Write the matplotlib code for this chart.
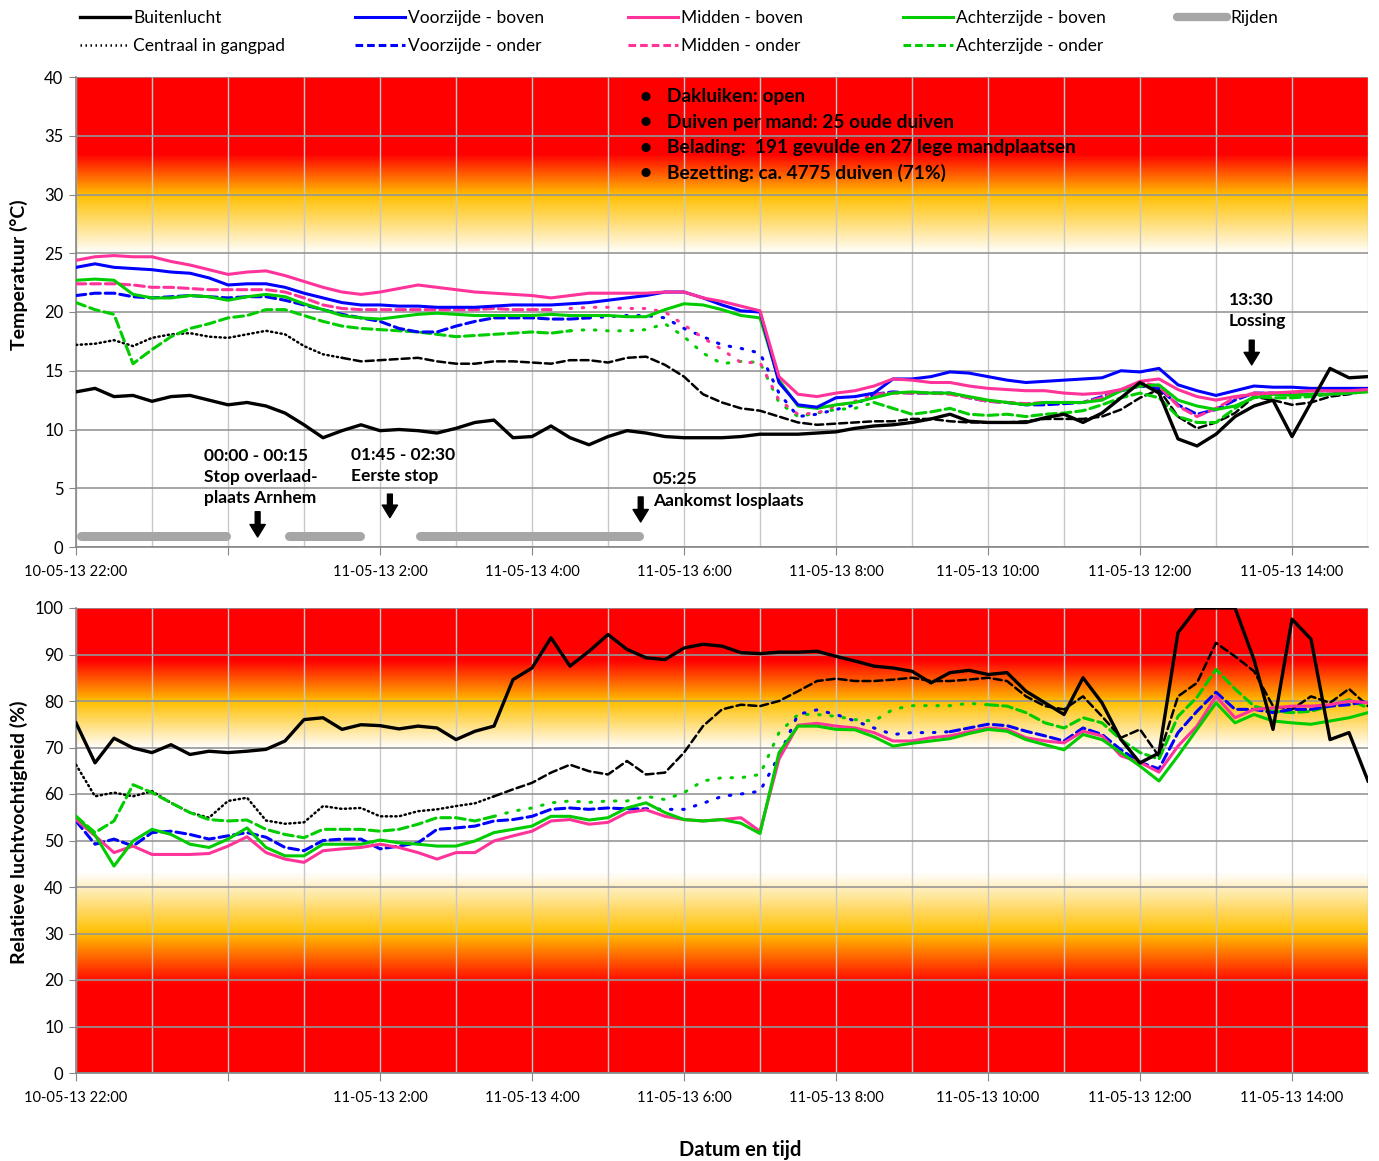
import numpy as np
import matplotlib
matplotlib.use("Agg")
import matplotlib.pyplot as plt
from matplotlib.colors import LinearSegmentedColormap
from matplotlib.lines import Line2D

plt.rcParams['font.family'] = ['Lato', 'DejaVu Sans']

# hours after 10-05-13 22:00, one sample every quarter of an hour
hours = np.linspace(0, 17, 69)

tick_hours = [0, 2, 4, 6, 8, 10, 12, 14, 16]
tick_labels = ['10-05-13 22:00', '', '11-05-13 2:00', '11-05-13 4:00', '11-05-13 6:00',
               '11-05-13 8:00', '11-05-13 10:00', '11-05-13 12:00', '11-05-13 14:00']

# temperature (degC)
buiten_T = [13.2, 13.5, 12.8, 12.9, 12.4, 12.8, 12.9, 12.5,
            12.1, 12.3, 12.0, 11.4, 10.4, 9.3, 9.9, 10.4,
            9.9, 10.0, 9.9, 9.7, 10.1, 10.6, 10.8, 9.3,
            9.4, 10.3, 9.3, 8.7, 9.4, 9.9, 9.7, 9.4,
            9.3, 9.3, 9.3, 9.4, 9.6, 9.6, 9.6, 9.7,
            9.8, 10.1, 10.3, 10.4, 10.6, 10.9, 11.3, 10.7,
            10.6, 10.6, 10.6, 11.0, 11.3, 10.6, 11.4, 12.7,
            14.0, 13.1, 9.2, 8.6, 9.6, 11.1, 12.0, 12.5,
            9.4, 12.3, 15.2, 14.4, 14.5]
centraal_T = [17.2, 17.3, 17.6, 17.1, 17.8, 18.1, 18.2, 17.9,
              17.8, 18.1, 18.4, 18.1, 17.1, 16.4, 16.1, 15.8,
              15.9, 16.0, 16.1, 15.8, 15.6, 15.6, 15.8, 15.8,
              15.7, 15.6, 15.9, 15.9, 15.7, 16.1, 16.2, 15.5,
              14.5, 13.0, 12.3, 11.8, 11.6, 11.1, 10.6, 10.4,
              10.5, 10.6, 10.7, 10.7, 10.9, 10.9, 10.7, 10.6,
              10.6, 10.6, 10.7, 10.9, 10.9, 10.9, 11.1, 11.7,
              12.7, 13.4, 11.1, 10.1, 10.6, 11.4, 12.8, 12.5,
              12.1, 12.3, 12.8, 13.0, 13.3]
voor_boven_T = [23.8, 24.1, 23.8, 23.7, 23.6, 23.4, 23.3, 22.9,
                22.3, 22.4, 22.4, 22.1, 21.6, 21.2, 20.8, 20.6,
                20.6, 20.5, 20.5, 20.4, 20.4, 20.4, 20.5, 20.6,
                20.6, 20.6, 20.7, 20.8, 21.0, 21.2, 21.4, 21.7,
                21.7, 21.2, 20.6, 20.1, 20.0, 14.0, 12.1, 11.9,
                12.7, 12.8, 13.1, 14.3, 14.3, 14.5, 14.9, 14.8,
                14.5, 14.2, 14.0, 14.1, 14.2, 14.3, 14.4, 15.0,
                14.9, 15.2, 13.8, 13.3, 12.9, 13.3, 13.7, 13.6,
                13.6, 13.5, 13.5, 13.5, 13.5]
voor_onder_T = [21.4, 21.6, 21.6, 21.3, 21.2, 21.3, 21.4, 21.3,
                21.2, 21.3, 21.3, 21.0, 20.6, 20.2, 19.8, 19.5,
                19.2, 18.6, 18.3, 18.3, 18.8, 19.2, 19.5, 19.5,
                19.5, 19.4, 19.4, 19.5, 19.6, 19.7, 19.7, 19.5,
                18.6, 17.9, 17.2, 16.9, 16.5, 13.1, 11.1, 11.3,
                11.7, 12.1, 13.0, 13.2, 13.1, 13.1, 13.1, 12.7,
                12.4, 12.3, 12.1, 12.1, 12.2, 12.3, 12.8, 13.3,
                13.7, 13.5, 12.1, 11.3, 11.7, 12.5, 13.1, 13.1,
                13.0, 13.0, 13.0, 13.1, 13.3]
mid_boven_T = [24.4, 24.7, 24.8, 24.7, 24.7, 24.3, 24.0, 23.6,
               23.2, 23.4, 23.5, 23.1, 22.6, 22.1, 21.7, 21.5,
               21.7, 22.0, 22.3, 22.1, 21.9, 21.7, 21.6, 21.5,
               21.4, 21.2, 21.4, 21.6, 21.6, 21.6, 21.6, 21.7,
               21.7, 21.2, 20.9, 20.5, 20.1, 14.5, 13.0, 12.8,
               13.1, 13.3, 13.7, 14.3, 14.2, 14.0, 14.0, 13.7,
               13.5, 13.4, 13.3, 13.3, 13.1, 13.0, 13.1, 13.4,
               14.1, 14.3, 13.4, 12.8, 12.5, 12.8, 13.0, 13.1,
               13.2, 13.3, 13.3, 13.3, 13.4]
mid_onder_T = [22.4, 22.4, 22.4, 22.3, 22.1, 22.1, 22.0, 21.9,
               21.9, 21.9, 21.9, 21.7, 21.2, 20.6, 20.3, 20.2,
               20.2, 20.2, 20.2, 20.2, 20.2, 20.2, 20.3, 20.2,
               20.2, 20.2, 20.3, 20.4, 20.4, 20.3, 20.3, 20.0,
               18.9, 17.8, 16.8, 15.7, 15.7, 12.5, 11.3, 11.4,
               12.0, 12.4, 13.0, 13.1, 13.1, 13.1, 13.0, 12.7,
               12.4, 12.3, 12.2, 12.3, 12.3, 12.3, 12.7, 13.4,
               14.0, 13.7, 12.0, 11.1, 11.8, 12.7, 13.1, 13.1,
               13.1, 13.0, 13.0, 13.1, 13.3]
achter_boven_T = [22.7, 22.8, 22.7, 21.5, 21.2, 21.2, 21.4, 21.3,
                  21.0, 21.3, 21.5, 21.3, 20.7, 20.2, 19.7, 19.5,
                  19.4, 19.6, 19.8, 19.9, 19.8, 19.7, 19.7, 19.7,
                  19.7, 19.8, 19.7, 19.7, 19.7, 19.6, 19.6, 20.2,
                  20.7, 20.6, 20.2, 19.7, 19.5, 14.2, 12.0, 11.8,
                  12.1, 12.3, 12.7, 13.1, 13.2, 13.1, 13.1, 12.8,
                  12.5, 12.3, 12.1, 12.3, 12.3, 12.3, 12.5, 13.3,
                  13.7, 13.8, 12.5, 12.0, 11.7, 12.0, 12.7, 13.0,
                  12.9, 13.0, 13.0, 13.1, 13.2]
achter_onder_T = [20.8, 20.2, 19.8, 15.6, 16.8, 17.9, 18.6, 19.0,
                  19.5, 19.7, 20.2, 20.2, 19.7, 19.2, 18.8, 18.6,
                  18.5, 18.4, 18.3, 18.1, 17.9, 18.0, 18.1, 18.2,
                  18.3, 18.2, 18.4, 18.5, 18.4, 18.4, 18.5, 19.0,
                  17.9, 16.5, 15.6, 15.8, 15.7, 12.3, 11.1, 11.4,
                  11.7, 11.8, 12.3, 11.8, 11.3, 11.5, 11.8, 11.3,
                  11.2, 11.3, 11.1, 11.3, 11.4, 11.6, 12.1, 12.7,
                  13.1, 12.7, 11.1, 10.6, 10.6, 11.8, 12.8, 12.7,
                  12.7, 12.8, 13.0, 13.1, 13.3]

# relative humidity (%)
buiten_H = [75.3, 66.7, 72.0, 69.9, 68.9, 70.6, 68.5, 69.2,
            68.9, 69.2, 69.6, 71.4, 76.0, 76.4, 73.9, 74.9,
            74.7, 74.0, 74.6, 74.2, 71.7, 73.5, 74.6, 84.6,
            87.1, 93.6, 87.5, 90.7, 94.3, 91.1, 89.3, 88.9,
            91.4, 92.2, 91.8, 90.4, 90.2, 90.5, 90.5, 90.7,
            89.6, 88.6, 87.5, 87.1, 86.4, 83.9, 86.1, 86.6,
            85.7, 86.1, 82.1, 79.6, 77.1, 85.0, 79.6, 71.7,
            66.7, 68.8, 94.7, 100.0, 100.0, 100.0, 88.9, 73.9,
            97.6, 93.3, 71.7, 73.2, 62.8]
centraal_H = [66.3, 59.5, 60.3, 59.5, 60.6, 58.1, 56.0, 54.9,
              58.5, 59.2, 54.3, 53.6, 53.9, 57.4, 56.8, 57.0,
              55.2, 55.2, 56.3, 56.7, 57.4, 58.0, 59.5, 61.0,
              62.4, 64.6, 66.3, 64.9, 64.2, 67.1, 64.2, 64.6,
              68.9, 74.6, 78.2, 79.2, 78.9, 80.0, 82.1, 84.3,
              84.8, 84.3, 84.3, 84.6, 85.0, 84.3, 84.3, 84.6,
              85.0, 84.3, 81.0, 78.9, 78.2, 81.0, 76.7, 72.1,
              73.9, 68.1, 81.0, 83.9, 92.5, 89.6, 86.4, 78.9,
              78.2, 81.0, 79.6, 82.6, 78.9]
voor_onder_H = [54.2, 49.2, 50.3, 48.8, 51.7, 52.0, 51.3, 50.3,
                51.0, 51.7, 50.7, 48.5, 47.8, 50.0, 50.3, 50.3,
                48.2, 48.8, 49.5, 52.4, 52.7, 53.1, 54.2, 54.5,
                55.2, 56.7, 57.0, 56.7, 57.0, 56.8, 56.8, 56.7,
                56.7, 58.0, 59.5, 60.0, 60.6, 68.2, 77.1, 78.1,
                77.1, 75.7, 74.2, 72.8, 73.2, 73.2, 73.4, 74.2,
                75.0, 74.7, 73.5, 72.5, 71.4, 74.2, 72.8, 69.5,
                66.8, 65.4, 73.2, 77.8, 81.9, 78.2, 78.2, 77.5,
                78.2, 78.2, 78.9, 79.2, 80.0]
mid_boven_H = [54.5, 51.0, 47.4, 48.8, 47.0, 47.0, 47.0, 47.2,
               48.8, 50.8, 47.4, 46.0, 45.3, 47.8, 48.2, 48.5,
               49.2, 48.5, 47.4, 46.0, 47.4, 47.4, 49.9, 51.0,
               52.0, 54.2, 54.5, 53.5, 53.9, 56.0, 56.6, 55.2,
               54.5, 54.2, 54.5, 54.9, 52.0, 67.5, 74.8, 75.2,
               74.6, 74.2, 73.2, 71.4, 71.4, 72.1, 72.5, 73.4,
               74.2, 73.9, 72.1, 71.4, 71.0, 73.5, 72.5, 68.2,
               66.8, 64.7, 70.3, 74.6, 81.0, 76.4, 78.2, 78.5,
               78.9, 78.9, 79.2, 80.0, 79.6]
achter_boven_H = [55.2, 51.2, 44.5, 49.9, 52.4, 51.3, 49.2, 48.5,
                  50.3, 52.7, 48.5, 46.7, 46.7, 49.2, 49.2, 49.2,
                  50.1, 49.5, 49.2, 48.8, 48.8, 49.9, 51.7, 52.4,
                  53.1, 55.2, 55.2, 54.4, 54.9, 57.0, 58.1, 56.0,
                  54.5, 54.2, 54.5, 53.7, 51.5, 68.9, 74.6, 74.6,
                  73.9, 73.8, 72.3, 70.3, 70.9, 71.4, 71.9, 73.0,
                  73.9, 73.5, 71.7, 70.6, 69.5, 72.8, 71.7, 68.9,
                  66.0, 62.8, 68.2, 73.9, 79.6, 75.3, 77.1, 75.7,
                  75.3, 75.0, 75.7, 76.4, 77.5]
achter_onder_H = [55.2, 51.7, 54.2, 62.0, 60.3, 58.1, 56.0, 54.5,
                  54.2, 54.4, 52.4, 51.3, 50.6, 52.4, 52.4, 52.4,
                  52.0, 52.4, 53.5, 54.9, 54.9, 54.2, 55.2, 56.3,
                  57.0, 58.1, 58.5, 58.2, 58.5, 58.5, 59.5, 58.8,
                  60.3, 62.8, 63.5, 63.5, 64.2, 73.2, 77.1, 77.1,
                  76.7, 76.0, 75.7, 78.2, 79.0, 79.0, 79.0, 79.5,
                  79.2, 78.9, 77.5, 75.3, 74.2, 76.4, 75.3, 71.7,
                  68.9, 67.5, 76.7, 80.8, 86.8, 82.6, 78.9, 77.8,
                  77.5, 77.8, 78.9, 80.3, 78.5]

# driving periods (hours after 22:00)
rijden_start = [0.06, 2.80, 4.52]
rijden_end = [1.97, 3.74, 7.41]

for s in [buiten_T, centraal_T, voor_boven_T, voor_onder_T, mid_boven_T, mid_onder_T,
          achter_boven_T, achter_onder_T, buiten_H, centraal_H, voor_onder_H,
          mid_boven_H, achter_boven_H, achter_onder_H]:
    assert len(s) == len(hours)

BLACK = 'black'
BLUE = '#0000FF'
PINK = '#FF3399'
GREEN = '#00CC00'
GREY = '#A6A6A6'

DASH = (0, (3.2, 1.6))
DOT = (0, (0.5, 1.4))
SPARSE = (0, (0.5, 3.5))


def draw(ax, y, color, lw, segments):
    # segments: list of (end hour, linestyle); the series changes style over time
    x = hours
    y = np.asarray(y)
    start = 0
    for t_end, ls in segments:
        m = (x >= start) & (x <= t_end)
        ax.plot(x[m], y[m], color=color, lw=lw, ls=ls, dash_capstyle='round', zorder=3)
        start = t_end


def background(ax, stops, ymax):
    cmap = LinearSegmentedColormap.from_list('bg', [(v / ymax, c) for v, c in stops])
    ys = np.linspace(0, ymax, 600).reshape(-1, 1)
    ax.imshow(ys, cmap=cmap, vmin=0, vmax=ymax, origin='lower', aspect='auto',
              extent=[0, 17, 0, ymax], zorder=0, interpolation='bilinear')


def style_axes(ax, ymax, ystep):
    ax.set_xlim(0, 17)
    ax.set_ylim(0, ymax)
    ax.set_yticks(np.arange(0, ymax + 1, ystep))
    ax.set_xticks(tick_hours)
    ax.set_xticklabels(tick_labels, fontsize=10.5)
    ax.set_xticks(np.arange(0, 18, 1), minor=True)
    ax.tick_params(axis='y', labelsize=12, length=5, color='#868686', pad=4)
    ax.tick_params(axis='x', which='major', length=6, color='#868686', pad=7)
    ax.tick_params(axis='x', which='minor', length=0)
    ax.yaxis.grid(True, color='#969696', lw=1.2, zorder=1)
    ax.xaxis.grid(True, which='both', color='#C8C8C8', lw=1.0, zorder=1)
    for side in ['top', 'right']:
        ax.spines[side].set_visible(False)
    for side in ['left', 'bottom']:
        ax.spines[side].set_color('#868686')
        ax.spines[side].set_linewidth(1.2)


fig = plt.figure(figsize=(13.79, 11.61), dpi=100)
ax1 = fig.add_axes([76 / 1379, 1 - 547 / 1161, 1292 / 1379, 470 / 1161])
ax2 = fig.add_axes([76 / 1379, 1 - 1073 / 1161, 1292 / 1379, 465 / 1161])

# ---- temperature panel
background(ax1, [(0, 'white'), (25, 'white'), (30, '#FFC000'), (33.5, '#FF0000'), (40, '#FF0000')], 40)
style_axes(ax1, 40, 5)

draw(ax1, centraal_T, BLACK, 1.8, [(3.5, DOT), (17, DASH)])
draw(ax1, achter_onder_T, GREEN, 2.2, [(6.5, DASH), (10.5, SPARSE), (17, DASH)])
draw(ax1, voor_onder_T, BLUE, 2.2, [(6.75, DASH), (10.5, SPARSE), (17, DASH)])
draw(ax1, mid_onder_T, PINK, 2.2, [(6.3, DASH), (10.5, SPARSE), (17, DASH)])
draw(ax1, achter_boven_T, GREEN, 2.2, [(17, '-')])
draw(ax1, voor_boven_T, BLUE, 2.2, [(17, '-')])
draw(ax1, mid_boven_T, PINK, 2.2, [(17, '-')])
draw(ax1, buiten_T, BLACK, 2.4, [(17, '-')])

for a, b in zip(rijden_start, rijden_end):
    ax1.plot([a, b], [0.9, 0.9], color=GREY, lw=6.5, solid_capstyle='round', zorder=3)

ax1.set_ylabel('Temperatuur (°C)', fontsize=14, fontweight='bold')
ax1.yaxis.set_label_coords(-0.037, 0.579)

info = ['Dakluiken: open', 'Duiven per mand: 25 oude duiven',
        'Belading:  191 gevulde en 27 lege mandplaatsen', 'Bezetting: ca. 4775 duiven (71%)']
for i, line in enumerate(info):
    yv = 38.3 - 2.15 * i
    ax1.text(7.49, yv, '\u2022', fontsize=15, fontweight='bold', va='center', ha='center', zorder=5)
    ax1.text(7.78, yv, line, fontsize=13.8, fontweight='bold', va='center', ha='left', zorder=5)

notes = [(1.68, 5.95, '00:00 - 00:15\nStop overlaad-\nplaats Arnhem', 2.39, 3.0, 0.85),
         (3.62, 6.94, '01:45 - 02:30\nEerste stop', 4.13, 4.5, 2.5),
         (7.59, 4.85, '05:25\nAankomst losplaats', 7.43, 4.26, 2.13),
         (15.17, 20.1, '13:30\nLossing', 15.47, 17.6, 15.5)]
for tx, ty, txt, ax_x, y0, y1 in notes:
    ax1.text(tx, ty, txt, fontsize=12.5, fontweight='bold', va='center', ha='left',
             linespacing=1.4, zorder=5)
    ax1.annotate('', xy=(ax_x, y1), xytext=(ax_x, y0),
                 arrowprops=dict(facecolor='black', edgecolor='black', width=3.5,
                                 headwidth=11, headlength=9, shrink=0), zorder=5)

# ---- humidity panel
background(ax2, [(0, '#FF0000'), (19, '#FF0000'), (30, '#FFC000'), (43, 'white'),
                 (70, 'white'), (80, '#FFC000'), (89, '#FF0000'), (100, '#FF0000')], 100)
style_axes(ax2, 100, 10)

draw(ax2, centraal_H, BLACK, 1.8, [(5.5, DOT), (17, DASH)])
draw(ax2, achter_onder_H, GREEN, 2.2, [(5.5, DASH), (12, SPARSE), (17, DASH)])
draw(ax2, voor_onder_H, BLUE, 2.2, [(7.5, DASH), (11.5, SPARSE), (17, DASH)])
draw(ax2, mid_boven_H, PINK, 2.2, [(17, '-')])
draw(ax2, achter_boven_H, GREEN, 2.2, [(17, '-')])
draw(ax2, buiten_H, BLACK, 2.4, [(17, '-')])

ax2.set_ylabel('Relatieve luchtvochtigheid (%)', fontsize=14, fontweight='bold')
ax2.yaxis.set_label_coords(-0.037, 0.518)
fig.text(740 / 1379, 1 - 1150 / 1161, 'Datum en tijd', fontsize=14.5, fontweight='bold',
         ha='center', va='center')

# ---- legend, one block per column
columns = [
    [Line2D([], [], color=BLACK, lw=2.4, label='Buitenlucht'),
     Line2D([], [], color=BLACK, lw=1.8, ls=(0, (0.6, 1.4)), label='Centraal in gangpad')],
    [Line2D([], [], color=BLUE, lw=2.2, label='Voorzijde - boven'),
     Line2D([], [], color=BLUE, lw=2.2, ls=(0, (2.5, 1.3)), label='Voorzijde - onder')],
    [Line2D([], [], color=PINK, lw=2.2, label='Midden - boven'),
     Line2D([], [], color=PINK, lw=2.2, ls=(0, (2.5, 1.3)), label='Midden - onder')],
    [Line2D([], [], color=GREEN, lw=2.2, label='Achterzijde - boven'),
     Line2D([], [], color=GREEN, lw=2.2, ls=(0, (2.5, 1.3)), label='Achterzijde - onder')],
    [Line2D([], [], color=GREY, lw=6, solid_capstyle='round', label='Rijden')],
]
col_x = [80, 355, 628, 903, 1177]
for x0, handles in zip(col_x, columns):
    fig.legend(handles=handles, loc='upper left', bbox_to_anchor=(x0 / 1379, 1 - 10 / 1161),
               frameon=False, fontsize=12.5, handlelength=2.88, handletextpad=0.18,
               borderpad=0, borderaxespad=0, labelspacing=0.68)

fig.savefig('out.png', dpi=100)
